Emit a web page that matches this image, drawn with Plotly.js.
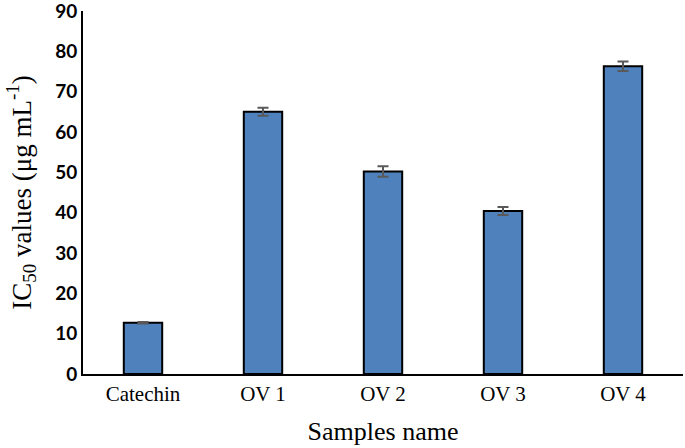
<!DOCTYPE html>
<html>
<head>
<meta charset="utf-8">
<script src="https://cdn.plot.ly/plotly-3.0.1.min.js"></script>
<style>html,body{margin:0;padding:0;background:#fff;}#chart{width:685px;height:448px;}</style>
</head>
<body>
<div id="chart"></div>
<script>
const categories = ["Catechin", "OV 1", "OV 2", "OV 3", "OV 4"];
const ic50Values = [12.7, 65.0, 50.2, 40.4, 76.3];
const errorValues = [0.2, 1.0, 1.3, 1.0, 1.2];
const yTickValues = [0, 10, 20, 30, 40, 50, 60, 70, 80, 90];

const trace = {
  type: "bar",
  x: categories,
  y: ic50Values,
  width: 0.32,
  marker: {color: "#4F81BD", line: {color: "#000000", width: 2}},
  error_y: {type: "data", array: errorValues, visible: true, color: "#595959", thickness: 2, width: 5.5},
  hoverinfo: "skip"
};

const layout = {
  width: 685, height: 448,
  margin: {l: 83, r: 2, t: 11, b: 74},
  paper_bgcolor: "#ffffff", plot_bgcolor: "#ffffff",
  showlegend: false,
  xaxis: {
    showline: true, linecolor: "#000000", linewidth: 2,
    showgrid: false, zeroline: false, ticks: "",
    tickfont: {family: "Liberation Serif, Times New Roman, serif", size: 21, color: "#000"},
    title: {text: "Samples name", font: {family: "Liberation Serif, Times New Roman, serif", size: 26, color: "#000"}, standoff: 17}
  },
  yaxis: {
    range: [0, 90], tickvals: yTickValues,
    showline: true, linecolor: "#000000", linewidth: 2,
    showgrid: false, zeroline: false, ticks: "", ticklen: 0,
    ticklabeloverflow: "allow",
    tickfont: {family: "Lato, Open Sans, sans-serif", size: 19, color: "#000", weight: "bold"},
    title: {text: "IC<sub>50</sub> values (μg mL<sup>-1</sup>)", font: {family: "Liberation Serif, Times New Roman, serif", size: 27, color: "#000"}, standoff: 16}
  }
};

Plotly.newPlot("chart", [trace], layout, {displayModeBar: false, staticPlot: true});
</script>
</body>
</html>
